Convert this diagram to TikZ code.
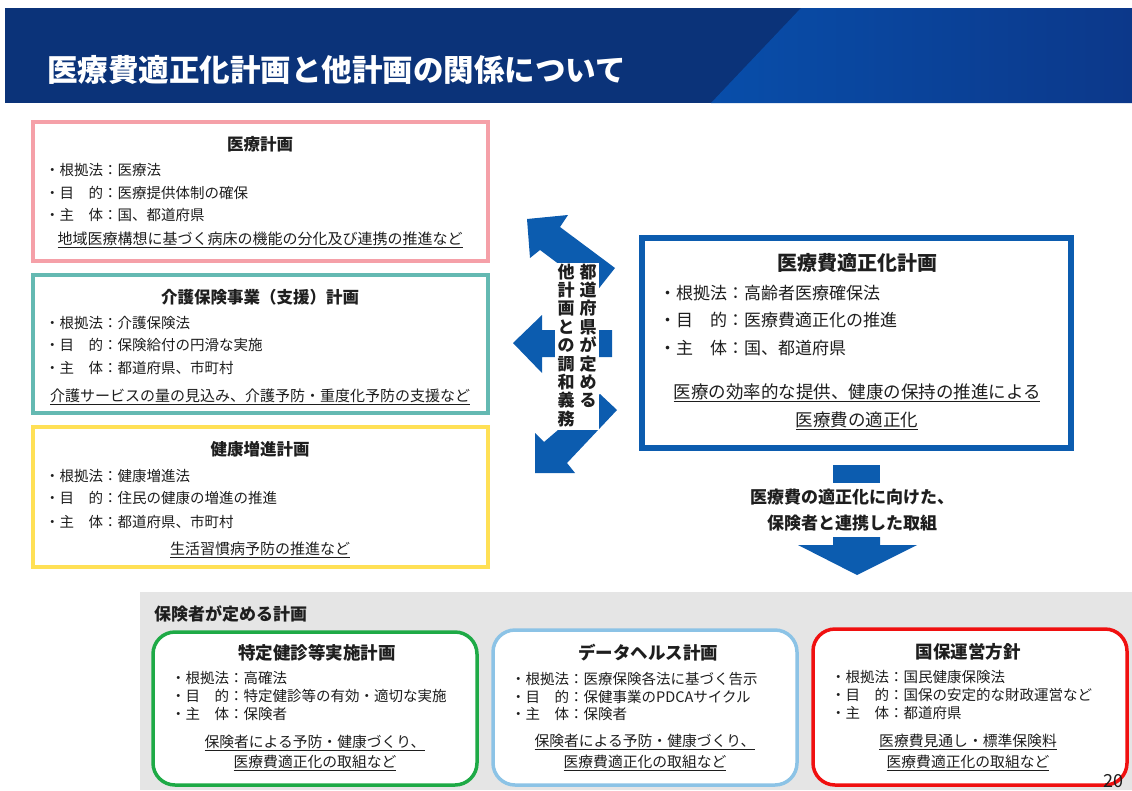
\documentclass[tikz,border=0pt]{standalone}
\usepackage{fontspec}
\setmainfont{Noto Sans CJK JP}
\usepackage{tikz}
\usetikzlibrary{arrows.meta}

\definecolor{navy}{RGB}{11,51,121}
\definecolor{hdlight}{RGB}{8,78,170}
\definecolor{hddark}{RGB}{12,56,138}
\definecolor{txt}{RGB}{30,30,30}
\definecolor{pinkc}{RGB}{245,160,168}
\definecolor{tealc}{RGB}{100,185,178}
\definecolor{yelc}{RGB}{255,224,85}
\definecolor{bluec}{RGB}{12,92,175}
\definecolor{greenc}{RGB}{30,170,70}
\definecolor{skyc}{RGB}{140,195,230}
\definecolor{redc}{RGB}{240,16,16}
\definecolor{grayc}{RGB}{229,229,229}

\begin{document}
\begin{tikzpicture}[x=1pt, y=-1pt,
  box/.style={draw, line width=4pt, fill=white, inner sep=0pt},
  rbox/.style={box, line width=3.5pt, rounded corners=22pt},
  ttl/.style={inner sep=0pt, text=txt, font=\bfseries\fontsize{16.5}{20}\selectfont},
  itm/.style={anchor=west, inner sep=0pt, text=txt, font=\fontsize{14.5}{17}\selectfont},
  note/.style={inner sep=0pt, text=txt, font=\fontsize{15}{17}\selectfont},
  btxt/.style={inner sep=0pt, text=txt, font=\bfseries\fontsize{17}{18.4}\selectfont}]

  \useasboundingbox (0,0) rectangle (1132,790);

  % header band
  \fill[navy] (5,8) rectangle (1132,103);
  \shade[left color=hdlight, right color=hddark] (801,8) -- (1132,8) -- (1132,103) -- (711,103) -- cycle;
  \node[anchor=west, inner sep=0pt, text=white, font=\bfseries\fontsize{30.5}{34}\selectfont] (head) at (47,70) {医療費適正化計画と他計画の関係について};

  % plans of the prefecture
  \node[box, draw=pinkc, minimum width=455pt, minimum height=139pt] (iryo) at (260.5,191.5) {};
  \node[ttl] (iryo-t) at (260,144) {医療計画};
  \node[itm] (iryo-1) at (45,170) {・根拠法：医療法};
  \node[itm] (iryo-2) at (45,193) {・目　的：医療提供体制の確保};
  \node[itm] (iryo-3) at (45,215) {・主　体：国、都道府県};
  \node[note] (iryo-n) at (260,240) {\underline{地域医療構想に基づく病床の機能の分化及び連携の推進など}};

  \node[box, draw=tealc, minimum width=455pt, minimum height=138pt] (kaigo) at (260.5,344) {};
  \node[ttl] (kaigo-t) at (260,297) {介護保険事業（支援）計画};
  \node[itm] (kaigo-1) at (45,323) {・根拠法：介護保険法};
  \node[itm] (kaigo-2) at (45,345) {・目　的：保険給付の円滑な実施};
  \node[itm] (kaigo-3) at (45,368) {・主　体：都道府県、市町村};
  \node[note] (kaigo-n) at (260,397) {\underline{介護サービスの量の見込み、介護予防・重度化予防の支援など}};

  \node[box, draw=yelc, minimum width=455pt, minimum height=140pt] (kenko) at (260.5,497) {};
  \node[ttl] (kenko-t) at (260,449) {健康増進計画};
  \node[itm] (kenko-1) at (45,476) {・根拠法：健康増進法};
  \node[itm] (kenko-2) at (45,498) {・目　的：住民の健康の増進の推進};
  \node[itm] (kenko-3) at (45,522) {・主　体：都道府県、市町村};
  \node[note] (kenko-n) at (260,550) {\underline{生活習慣病予防の推進など}};

  % main plan
  \node[box, draw=bluec, line width=6pt, minimum width=429pt, minimum height=210pt] (tekisei) at (856.5,343) {};
  \node[inner sep=0pt, text=txt, font=\bfseries\fontsize{20}{24}\selectfont] (tekisei-t) at (857,263) {医療費適正化計画};
  \node[itm, font=\fontsize{17}{20}\selectfont] (tekisei-1) at (659,293) {・根拠法：高齢者医療確保法};
  \node[itm, font=\fontsize{17}{20}\selectfont] (tekisei-2) at (659,320) {・目　的：医療費適正化の推進};
  \node[itm, font=\fontsize{17}{20}\selectfont] (tekisei-3) at (659,348) {・主　体：国、都道府県};
  \node[note, font=\fontsize{17.5}{20}\selectfont] (tekisei-n1) at (857,393) {\underline{医療の効率的な提供、健康の保持の推進による}};
  \node[note, font=\fontsize{17.5}{20}\selectfont] (tekisei-n2) at (857,421) {\underline{医療費の適正化}};

  % arrows to the other plans
  \fill[bluec] (527,219) -- (568,215) -- (560,227) -- (615,268) -- (596,292) -- (540,250) -- (530,258) -- cycle;
  \fill[bluec] (513,343) -- (542,315) -- (542,330) -- (612,330) -- (612,357) -- (542,357) -- (542,373) -- cycle;
  \fill[bluec] (535,473) -- (535,433) -- (544,442) -- (600,394) -- (617,410) -- (567,463) -- (575,473) -- cycle;
  \node[fill=white, inner sep=0pt, minimum width=44pt, minimum height=167pt] (gimu) at (577,346.5) {};
  \node[btxt, anchor=north, align=center] (gimu-r) at (588,263.5) {都\\道\\府\\県\\が\\定\\め\\る};
  \node[btxt, anchor=north, align=center] (gimu-l) at (566,263.5) {他\\計\\画\\と\\の\\調\\和\\義\\務};

  % arrow down to the insurers
  \fill[bluec] (833,465) rectangle (880,483);
  \node[btxt] (renkei-1) at (852,497) {医療費の適正化に向けた、};
  \node[btxt] (renkei-2) at (852,523) {保険者と連携した取組};
  \fill[bluec] (833,537) -- (880,537) -- (880,545) -- (917,545) -- (857,575) -- (798,545) -- (833,545) -- cycle;

  % plans of the insurers
  \fill[grayc] (140,592) rectangle (1132,790);
  \node[btxt, anchor=west] (hoken) at (154,614) {保険者が定める計画};

  \node[rbox, draw=greenc, minimum width=324pt, minimum height=153pt] (kenshin) at (315,708.5) {};
  \node[ttl, font=\bfseries\fontsize{17.5}{20}\selectfont] (kenshin-t) at (317,653) {特定健診等実施計画};
  \node[itm] (kenshin-1) at (171,678) {・根拠法：高確法};
  \node[itm] (kenshin-2) at (171,696) {・目　的：特定健診等の有効・適切な実施};
  \node[itm] (kenshin-3) at (171,714) {・主　体：保険者};
  \node[note, font=\fontsize{14.8}{17}\selectfont] (kenshin-n1) at (315,743) {\underline{保険者による予防・健康づくり、}};
  \node[note, font=\fontsize{14.8}{17}\selectfont] (kenshin-n2) at (315,763) {\underline{医療費適正化の取組など}};

  \node[rbox, draw=skyc, minimum width=304pt, minimum height=155pt] (data) at (645,707.5) {};
  \node[ttl, font=\bfseries\fontsize{17.5}{20}\selectfont] (data-t) at (648,653) {データヘルス計画};
  \node[itm] (data-1) at (511,679) {・根拠法：医療保険各法に基づく告示};
  \node[itm] (data-2) at (511,697) {・目　的：保健事業のPDCAサイクル};
  \node[itm] (data-3) at (511,714) {・主　体：保険者};
  \node[note, font=\fontsize{14.8}{17}\selectfont] (data-n1) at (645,742) {\underline{保険者による予防・健康づくり、}};
  \node[note, font=\fontsize{14.8}{17}\selectfont] (data-n2) at (645,763) {\underline{医療費適正化の取組など}};

  \node[rbox, draw=redc, minimum width=314pt, minimum height=156pt] (kokuho) at (970,707) {};
  \node[ttl, font=\bfseries\fontsize{17.5}{20}\selectfont] (kokuho-t) at (968,652) {国保運営方針};
  \node[itm] (kokuho-1) at (831,677) {・根拠法：国民健康保険法};
  \node[itm] (kokuho-2) at (831,695) {・目　的：国保の安定的な財政運営など};
  \node[itm] (kokuho-3) at (831,713) {・主　体：都道府県};
  \node[note, font=\fontsize{14.8}{17}\selectfont] (kokuho-n1) at (968,742) {\underline{医療費見通し・標準保険料}};
  \node[note, font=\fontsize{14.8}{17}\selectfont] (kokuho-n2) at (968,763) {\underline{医療費適正化の取組など}};

  \node[inner sep=0pt, text=txt, font=\fontsize{18}{20}\selectfont] (page) at (1113,781) {20};
\end{tikzpicture}
\end{document}
